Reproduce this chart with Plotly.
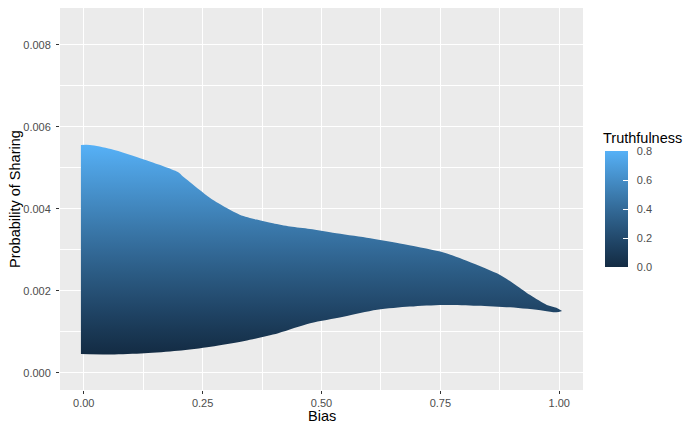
import plotly.graph_objects as go

# Envelope of the point cloud (visual edge)
upper_bias = [-0.006, 0.013, 0.057, 0.128, 0.198, 0.208, 0.223, 0.244, 0.265, 0.293,
              0.328, 0.364, 0.398, 0.434, 0.476, 0.524, 0.595, 0.665, 0.750, 0.798,
              0.869, 0.903, 0.939, 0.974, 0.994, 1.006]
upper_prob = [0.00556, 0.00556, 0.00546, 0.00520, 0.00490, 0.00480, 0.00466, 0.00446,
              0.00427, 0.00407, 0.00386, 0.00374, 0.00365, 0.00357, 0.00351, 0.00342,
              0.00330, 0.00316, 0.00296, 0.00277, 0.00243, 0.00219, 0.00190, 0.00166,
              0.00159, 0.00151]
lower_bias = [-0.006, 0.057, 0.128, 0.198, 0.267, 0.338, 0.409, 0.476, 0.546, 0.617,
              0.686, 0.756, 0.827, 0.897, 0.967, 0.994, 1.006]
lower_prob = [0.00046, 0.00045, 0.00048, 0.00054, 0.00064, 0.00078, 0.00097, 0.00121,
              0.00137, 0.00154, 0.00162, 0.00166, 0.00164, 0.00160, 0.00152, 0.00148,
              0.00151]

x_ticks = [0.0, 0.25, 0.5, 0.75, 1.0]
x_tick_labels = ["0.00", "0.25", "0.50", "0.75", "1.00"]
y_ticks = [0.0, 0.002, 0.004, 0.006, 0.008]
y_tick_labels = ["0.000", "0.002", "0.004", "0.006", "0.008"]
truth_ticks = [0.0, 0.2, 0.4, 0.6, 0.8]
truth_tick_labels = ["0.0", "0.2", "0.4", "0.6", "0.8"]
truth_range = [0.0, 0.8]

FONT = "Liberation Sans, Arial, sans-serif"

# the page body adds an 8px offset; panel in the photo spans x 60..583, y 8..390
OFF = 8
PANEL_L, PANEL_R, PANEL_T, PANEL_B = 60, 583, 8, 390
PW, PH = PANEL_R - PANEL_L, PANEL_B - PANEL_T


def px_x(x):
    return (x - PANEL_L) / PW


def px_y(y):
    return (PANEL_B - y) / PH


# ggplot2 default continuous gradient (#132B43 -> #56B1F7), interpolated in CIELAB
def _srgb_to_lin(c):
    c = c / 255.0
    return c / 12.92 if c <= 0.04045 else ((c + 0.055) / 1.055) ** 2.4


def _lin_to_srgb(c):
    c = max(0.0, min(1.0, c))
    v = 12.92 * c if c <= 0.0031308 else 1.055 * c ** (1 / 2.4) - 0.055
    return int(round(v * 255))


def _hex_to_lab(h):
    r, g, b = [_srgb_to_lin(int(h[i:i + 2], 16)) for i in (1, 3, 5)]
    X = 0.4124 * r + 0.3576 * g + 0.1805 * b
    Y = 0.2126 * r + 0.7152 * g + 0.0722 * b
    Z = 0.0193 * r + 0.1192 * g + 0.9505 * b
    Xn, Yn, Zn = 0.95047, 1.0, 1.08883

    def f(t):
        return t ** (1 / 3) if t > 0.008856 else 7.787 * t + 16 / 116
    fx, fy, fz = f(X / Xn), f(Y / Yn), f(Z / Zn)
    return (116 * fy - 16, 500 * (fx - fy), 200 * (fy - fz))


def _lab_to_rgb(L, a, b):
    fy = (L + 16) / 116
    fx = fy + a / 500
    fz = fy - b / 200

    def finv(t):
        return t ** 3 if t ** 3 > 0.008856 else (t - 16 / 116) / 7.787
    X, Y, Z = 0.95047 * finv(fx), finv(fy), 1.08883 * finv(fz)
    r = 3.2406 * X - 1.5372 * Y - 0.4986 * Z
    g = -0.9689 * X + 1.8758 * Y + 0.0415 * Z
    bb = 0.0557 * X - 0.2040 * Y + 1.0570 * Z
    return "rgb(%d,%d,%d)" % (_lin_to_srgb(r), _lin_to_srgb(g), _lin_to_srgb(bb))


lo_lab, hi_lab = _hex_to_lab("#132B43"), _hex_to_lab("#56B1F7")
n_stops = 11
colorscale = []
for i in range(n_stops):
    t = i / (n_stops - 1)
    lab = [lo_lab[k] + (hi_lab[k] - lo_lab[k]) * t for k in range(3)]
    colorscale.append([t, _lab_to_rgb(*lab)])

fig = go.Figure()

# lower curve, then the upper curve filled down to it with a vertical gradient
fig.add_trace(go.Scatter(
    x=lower_bias, y=lower_prob, mode="lines",
    line=dict(width=0, color="rgba(0,0,0,0)", shape="spline", smoothing=0.8),
    hoverinfo="skip", showlegend=False,
))
fig.add_trace(go.Scatter(
    x=upper_bias, y=upper_prob, mode="lines", fill="tonexty",
    line=dict(width=0, color="rgba(0,0,0,0)", shape="spline", smoothing=0.8),
    fillgradient=dict(type="vertical", colorscale=colorscale,
                      start=min(lower_prob), stop=max(upper_prob)),
    hoverinfo="skip", showlegend=False,
))

# colour bar for Truthfulness
fig.add_trace(go.Scatter(
    x=[None], y=[None], mode="markers", showlegend=False, hoverinfo="skip",
    marker=dict(
        color=truth_range, cmin=truth_range[0], cmax=truth_range[1],
        colorscale=colorscale, showscale=True,
        colorbar=dict(
            thickness=23, len=116, lenmode="pixels",
            x=px_x(605), xanchor="left", xref="paper", xpad=0,
            y=px_y(209), yanchor="middle", ypad=0,
            outlinewidth=0,
            tickvals=truth_ticks,
            ticktext=["\u00a0\u00a0" + s for s in truth_tick_labels],
            ticks="inside", ticklen=5, tickcolor="white", tickwidth=1,
            tickfont=dict(family=FONT, size=11, color="#4D4D4D"),
        ),
    ),
))

axis_common = dict(
    showgrid=True, gridcolor="white", gridwidth=1.1,
    zeroline=False, showline=False, automargin=False,
    ticks="outside", ticklen=3, tickwidth=1.1, tickcolor="#333333",
    tickfont=dict(family=FONT, size=11, color="#4D4D4D"),
)

fig.update_layout(
    width=700, height=433,
    margin=dict(l=PANEL_L - OFF, r=700 - (PANEL_R - OFF), t=PANEL_T - OFF,
                b=433 - (PANEL_B - OFF), autoexpand=False),
    paper_bgcolor="white", plot_bgcolor="#EBEBEB",
    font=dict(family=FONT),
    xaxis=dict(
        range=[-0.05, 1.05], tickvals=x_ticks, ticktext=x_tick_labels,
        minor=dict(dtick=0.125, tick0=0.125, showgrid=True, gridcolor="white",
                   gridwidth=0.5, ticks=""),
        **axis_common,
    ),
    yaxis=dict(
        range=[-0.000415, 0.0089], tickvals=y_ticks, ticktext=y_tick_labels,
        minor=dict(dtick=0.002, tick0=0.001, showgrid=True, gridcolor="white",
                   gridwidth=0.5, ticks=""),
        ticklabelstandoff=3,
        **axis_common,
    ),
    annotations=[
        dict(text="Bias", xref="paper", yref="paper", x=0.5, y=px_y(416),
             xanchor="center", yanchor="middle", showarrow=False,
             font=dict(family=FONT, size=14.5, color="black")),
        dict(text="Probability of Sharing", xref="paper", yref="paper",
             x=px_x(15), y=0.5, xanchor="center", yanchor="middle", textangle=-90,
             showarrow=False, font=dict(family=FONT, size=14.5, color="black")),
        dict(text="Truthfulness", xref="paper", yref="paper",
             x=px_x(601), y=px_y(138),
             xanchor="left", yanchor="middle", showarrow=False,
             font=dict(family=FONT, size=14.5, color="black")),
    ],
)

fig.write_html("out.html")
